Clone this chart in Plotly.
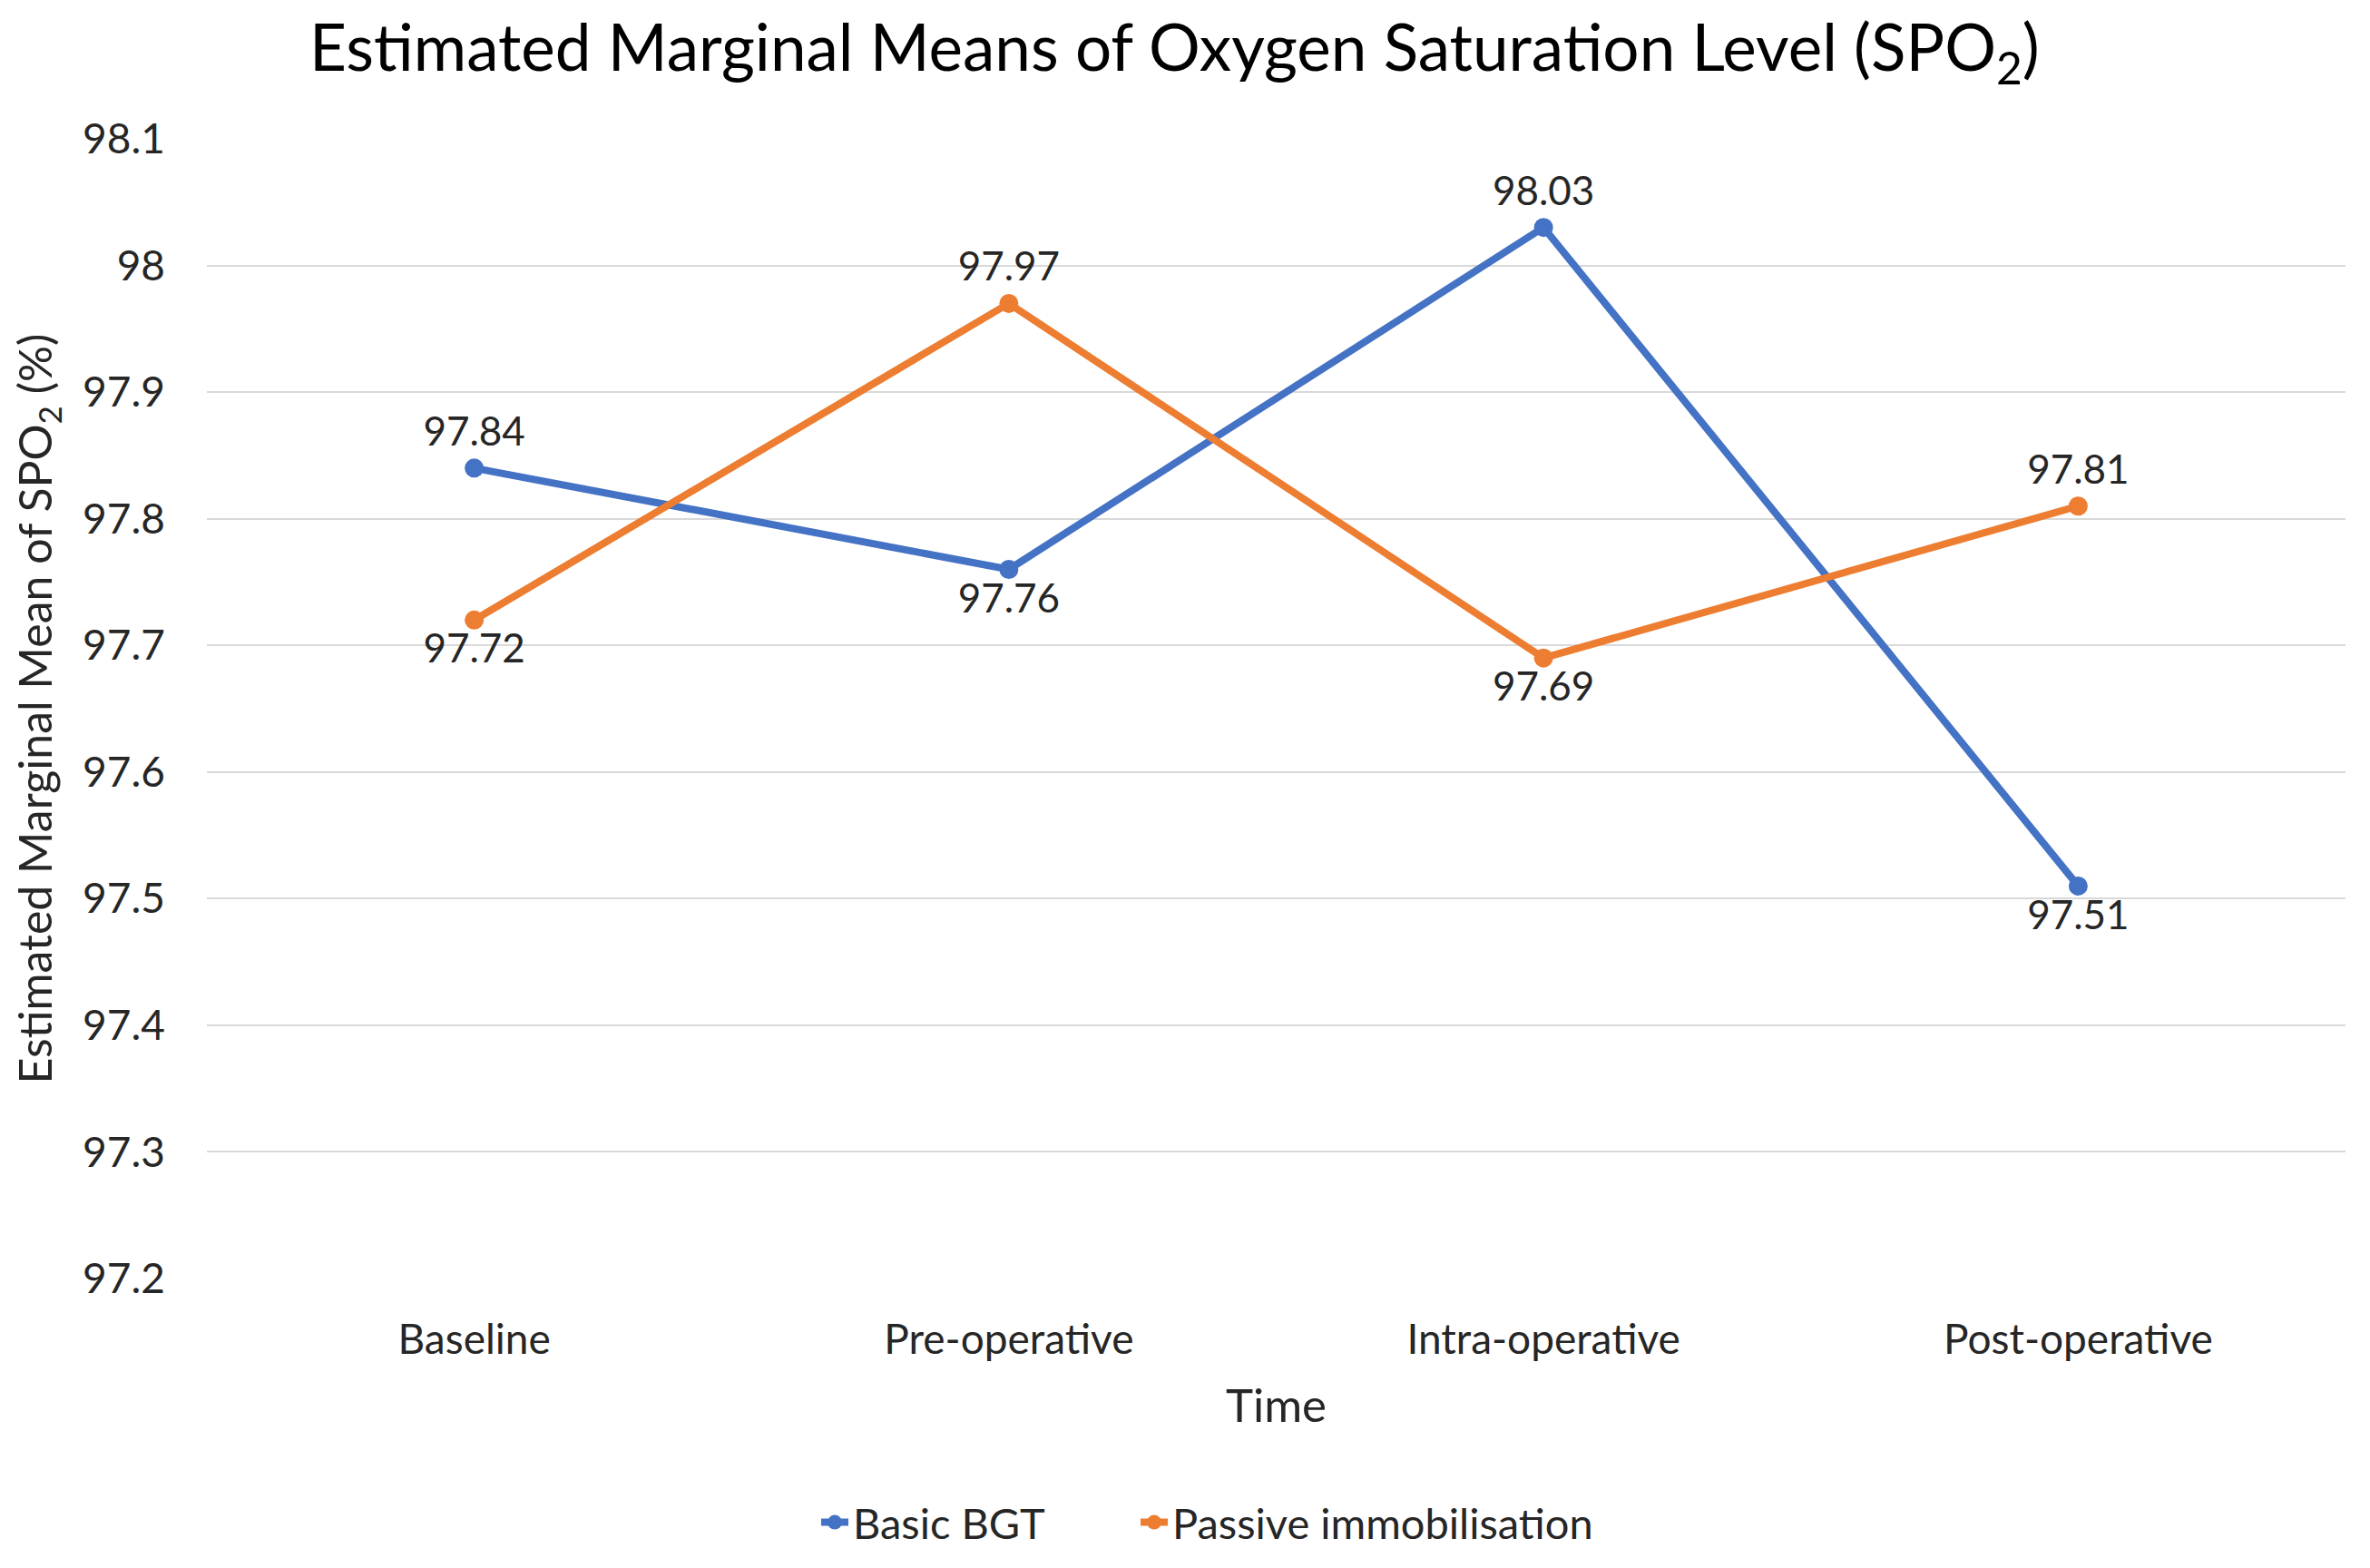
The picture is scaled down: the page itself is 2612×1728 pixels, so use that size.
import plotly.graph_objects as go

categories = ["Baseline", "Pre-operative", "Intra-operative", "Post-operative"]
basic_bgt = [97.84, 97.76, 98.03, 97.51]
passive_imm = [97.72, 97.97, 97.69, 97.81]
basic_pos = ["top center", "bottom center", "top center", "bottom center"]
passive_pos = ["bottom center", "top center", "bottom center", "top center"]
y_ticks = [97.2, 97.3, 97.4, 97.5, 97.6, 97.7, 97.8, 97.9, 98.0, 98.1]
y_ticktext = ["97.2", "97.3", "97.4", "97.5", "97.6", "97.7", "97.8", "97.9", "98", "98.1"]

FONT = "Lato, Open Sans, sans-serif"
BLUE = "#4472C4"
ORANGE = "#ED7D31"
TXT = "#262626"

W, H = 2604, 1720
PLOT_LEFT = 220
PLOT_BOTTOM = 1401
PLOT_H = 1256
PLOT_W = W - PLOT_LEFT - 27
LEG_Y = -(1670 - PLOT_BOTTOM) / PLOT_H

fig = go.Figure()
fig.add_trace(go.Scatter(
    x=categories, y=basic_bgt, name="Basic BGT", mode="lines+markers+text",
    line=dict(color=BLUE, width=8), marker=dict(size=21, color=BLUE),
    text=[f"{v:.2f}" for v in basic_bgt], textposition=basic_pos,
    textfont=dict(family=FONT, size=44, color=TXT), legend="legend", showlegend=True,
))
fig.add_trace(go.Scatter(
    x=categories, y=passive_imm, name="Passive immobilisation", mode="lines+markers+text",
    line=dict(color=ORANGE, width=8), marker=dict(size=21, color=ORANGE),
    text=[f"{v:.2f}" for v in passive_imm], textposition=passive_pos,
    textfont=dict(family=FONT, size=44, color=TXT), legend="legend2", showlegend=True,
))

leg_common = dict(orientation="h", xanchor="left", y=LEG_Y, yanchor="middle",
                  font=dict(family=FONT, size=47, color=TXT), bgcolor="rgba(0,0,0,0)")

fig.update_layout(
    width=W, height=H, showlegend=True,
    paper_bgcolor="white", plot_bgcolor="white",
    margin=dict(l=PLOT_LEFT, r=27, t=145, b=H - PLOT_BOTTOM),
    font=dict(family=FONT, size=44, color=TXT),
    title=dict(text="Estimated Marginal Means of Oxygen Saturation Level (SPO<sub>2</sub>)",
               x=0.494, xanchor="center", y=1 - 45 / H, yanchor="middle",
               font=dict(family=FONT, size=71, color="#000000")),
    legend=dict(x=(892 - PLOT_LEFT) / PLOT_W, **leg_common),
    legend2=dict(x=(1244 - PLOT_LEFT) / PLOT_W, **leg_common),
    xaxis=dict(type="category", range=[-0.5, 3.5], showgrid=False, showline=False, zeroline=False,
               ticks="", ticklabelstandoff=36, tickfont=dict(size=46),
               title=dict(text="Time", standoff=30, font=dict(family=FONT, size=51, color=TXT))),
    yaxis=dict(range=[97.2, 98.1], tickvals=y_ticks, ticktext=y_ticktext,
               showgrid=True, gridcolor="#D9D9D9", gridwidth=2, zeroline=False, showline=False,
               ticks="", ticklabelstandoff=45, tickfont=dict(size=46),
               title=dict(text="Estimated Marginal Mean of SPO<sub>2</sub> (%)", standoff=23,
                          font=dict(family=FONT, size=50, color=TXT))),
)

fig.write_html("out.html")
